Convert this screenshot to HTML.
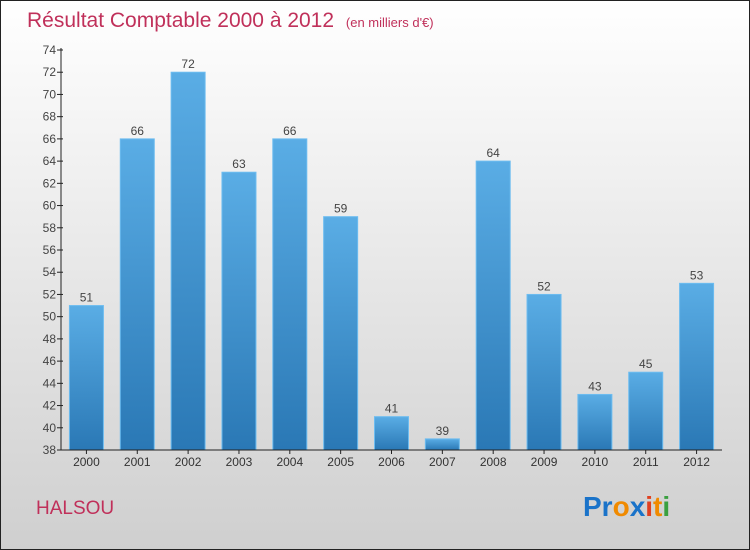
<!DOCTYPE html>
<html><head><meta charset="utf-8"><style>
body{margin:0;width:750px;height:550px;overflow:hidden}
svg{display:block;font-family:"Liberation Sans",sans-serif}
</style></head><body>
<svg id="c" width="750" height="550">
<defs>
<linearGradient id="bg" x1="0" y1="0" x2="0" y2="1"><stop offset="0" stop-color="#ffffff"/><stop offset="1" stop-color="#cfcfcf"/></linearGradient>
<linearGradient id="bar" x1="0" y1="0" x2="0" y2="1"><stop offset="0" stop-color="#5aade5"/><stop offset="1" stop-color="#2a78b5"/></linearGradient>
</defs>
<rect x="0.5" y="0.5" width="749" height="549" fill="url(#bg)" stroke="#222"/>
<text x="27" y="27" font-size="21" fill="#c0305a">Résultat Comptable 2000 à 2012 <tspan font-size="13" dx="6">(en milliers d'€)</tspan></text>
<g id="plot"></g>
<text x="36" y="514" font-size="19" fill="#c0305a">HALSOU</text>
<text x="583" y="516" font-size="28" font-weight="bold"><tspan fill="#1a73c9">Pr</tspan><tspan fill="#f08a00">o</tspan><tspan fill="#1a73c9">x</tspan><tspan fill="#e04020">i</tspan><tspan fill="#f08a00">t</tspan><tspan fill="#3aa040">i</tspan></text>
</svg>
<script>
const categories=["2000","2001","2002","2003","2004","2005","2006","2007","2008","2009","2010","2011","2012"];
const values=[51,66,72,63,66,59,41,39,64,52,43,45,53];
const yTicks=[38,40,42,44,46,48,50,52,54,56,58,60,62,64,66,68,70,72,74];
const NS="http://www.w3.org/2000/svg";
const g=document.getElementById('plot');
const x0=61,x1=722,yTop=50,yBot=450,yMin=38,yMax=74;
const y=v=>yBot-(v-yMin)/(yMax-yMin)*(yBot-yTop);
const step=(x1-x0)/categories.length;
const bx=i=>x0+step*i+step/2;
function el(t,a,txt){const e=document.createElementNS(NS,t);for(const k in a)e.setAttribute(k,a[k]);if(txt!==undefined)e.textContent=txt;g.appendChild(e);return e;}
values.forEach((v,i)=>{
 const r=el('rect',{x:bx(i)-17,y:y(v),width:34,height:yBot-y(v),fill:'url(#bar)',stroke:'#6cbcf0','stroke-width':1});
 
 
 const t=el('text',{x:bx(i),y:y(v)-4,'text-anchor':'middle','font-size':12,fill:'#444'},String(v));
 
 
 const c=el('text',{x:bx(i),y:466,'text-anchor':'middle','font-size':12,fill:'#333'},categories[i]);
 
 
 const tk=el('line',{x1:bx(i),x2:bx(i),y1:yBot,y2:yBot+4,stroke:'#222'});
 
 
});
yTicks.forEach(v=>{
 const l=el('line',{x1:x0-4,x2:x0+2,y1:y(v),y2:y(v),stroke:'#222'});
 
 
 const t=el('text',{x:x0-5,y:y(v)+4,'text-anchor':'end','font-size':12,fill:'#444'},String(v));
 
 
});
const ya=el('line',{x1:x0,x2:x0,y1:yTop-2,y2:yBot,stroke:'#222'});


const xa=el('line',{x1:x0,x2:x1,y1:yBot,y2:yBot,stroke:'#222'});


</script>
</body></html>
